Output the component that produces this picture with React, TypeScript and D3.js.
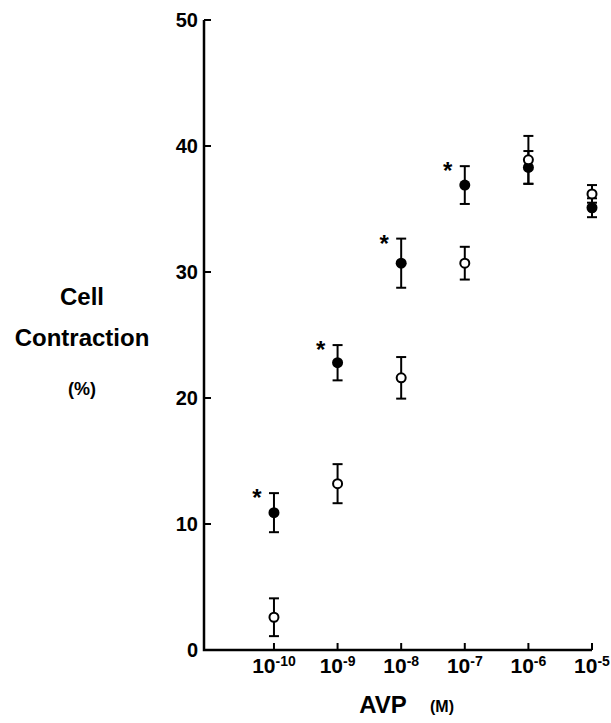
import * as d3 from "d3";

// AVP doses (M)
const doses = [1e-10, 1e-9, 1e-8, 1e-7, 1e-6, 1e-5];
const exps = [-10, -9, -8, -7, -6, -5];

// filled circles
const filledMean = [10.9, 22.8, 30.7, 36.9, 38.3, 35.1];
const filledSE = [1.55, 1.4, 1.95, 1.5, 1.3, 0.75];
const significant = [true, true, true, true, false, false];

// open circles
const openMean = [2.6, 13.2, 21.6, 30.7, 38.9, 36.2];
const openSE = [1.5, 1.55, 1.65, 1.3, 1.9, 0.7];

const yTicks = [0, 10, 20, 30, 40, 50];

export default function App() {
  const width = 611;
  const height = 723;

  const x = d3.scaleLog().domain([Math.pow(10, -11.1), 1e-5]).range([204, 592]);
  const y = d3.scaleLinear().domain([0, 50]).range([650, 20]);

  const font = "'Liberation Sans', Arial, sans-serif";

  const errorBar = (d: number, m: number, se: number, key: string) => {
    const cx = x(d);
    const top = y(m + se);
    const bot = y(m - se);
    return (
      <g key={key} stroke="#000" strokeWidth={2}>
        <line x1={cx} x2={cx} y1={top} y2={bot} />
        <line x1={cx - 5} x2={cx + 5} y1={top} y2={top} />
        <line x1={cx - 5} x2={cx + 5} y1={bot} y2={bot} />
      </g>
    );
  };

  return (
    <div style={{ position: "absolute", left: 0, top: 0 }}>
      <svg width={width} height={height} style={{ display: "block", background: "#fff" }}>
        {/* axes */}
        <path
          d={`M${x.range()[0]},${y(50)} V${y(0)} H${x.range()[1]}`}
          fill="none"
          stroke="#000"
          strokeWidth={2.5}
        />
        {yTicks.map((t) => (
          <g key={"yt" + t}>
            <line x1={204} x2={211} y1={y(t)} y2={y(t)} stroke="#000" strokeWidth={2} />
            <text
              x={198}
              y={y(t)}
              dy="0.36em"
              textAnchor="end"
              fontFamily={font}
              fontWeight="bold"
              fontSize={20}
            >
              {t}
            </text>
          </g>
        ))}
        {doses.map((d, i) => (
          <g key={"xt" + i}>
            <line x1={x(d)} x2={x(d)} y1={y(0)} y2={y(0) - 7} stroke="#000" strokeWidth={2} />
            <text
              x={x(d)}
              y={673}
              textAnchor="middle"
              fontFamily={font}
              fontWeight="bold"
              fontSize={21}
            >
              10
              <tspan fontSize={14} dy={-7}>
                {exps[i]}
              </tspan>
            </text>
          </g>
        ))}

        {/* axis titles */}
        <g fontFamily={font} fontWeight="bold" textAnchor="middle">
          <text x={82} y={305} fontSize={24}>Cell</text>
          <text x={82} y={346} fontSize={24}>Contraction</text>
          <text x={82} y={395} fontSize={18}>(%)</text>
          <text x={383} y={713} fontSize={24}>AVP</text>
          <text x={442} y={712} fontSize={16}>(M)</text>
        </g>

        {/* error bars */}
        {doses.map((d, i) => errorBar(d, filledMean[i], filledSE[i], "fe" + i))}
        {doses.map((d, i) => errorBar(d, openMean[i], openSE[i], "oe" + i))}

        {/* markers */}
        {doses.map((d, i) => (
          <circle key={"fc" + i} cx={x(d)} cy={y(filledMean[i])} r={5.5} fill="#000" />
        ))}
        {doses.map((d, i) => (
          <circle
            key={"oc" + i}
            cx={x(d)}
            cy={y(openMean[i])}
            r={4.5}
            fill="#fff"
            stroke="#000"
            strokeWidth={2}
          />
        ))}

        {/* significance marks */}
        {doses.map((d, i) =>
          significant[i] ? (
            <text
              key={"st" + i}
              x={x(d) - 17}
              y={y(filledMean[i] + filledSE[i]) + 13}
              textAnchor="middle"
              fontFamily={font}
              fontWeight="bold"
              fontSize={24}
            >
              *
            </text>
          ) : null
        )}
      </svg>
    </div>
  );
}
